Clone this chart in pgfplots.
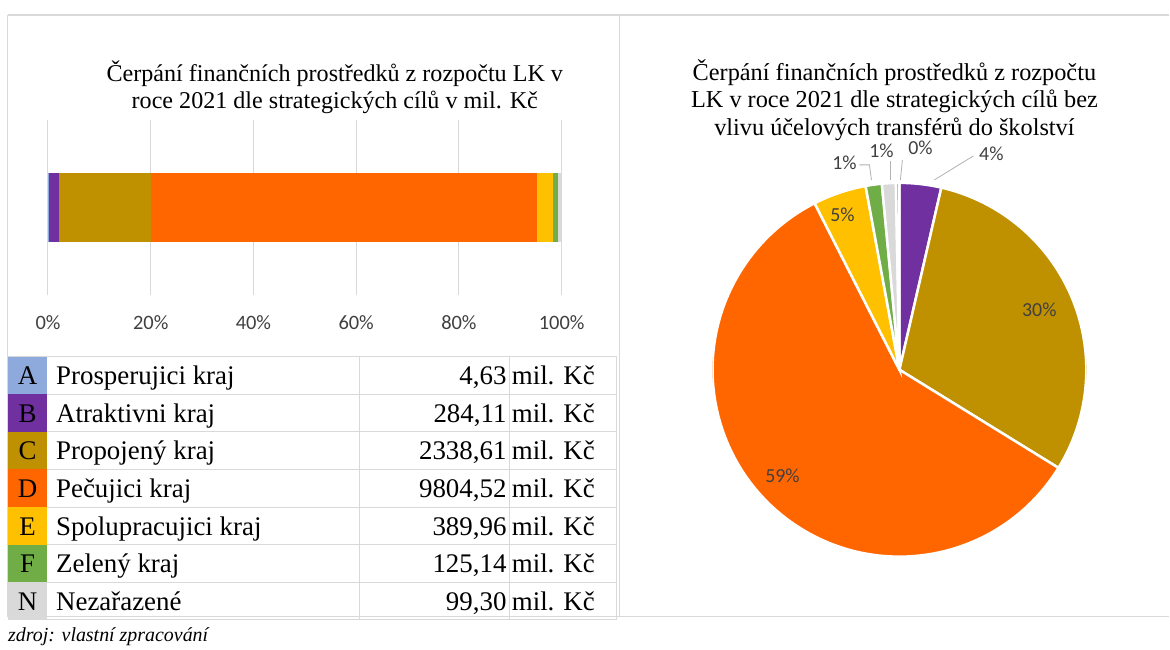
\documentclass[border=0pt]{standalone}
\usepackage{fontspec}
\setmainfont{Liberation Serif}
\newfontfamily\calib{Carlito}
\usepackage{pgfplots}
\pgfplotsset{compat=1.18}

\definecolor{cA}{HTML}{8EA9DB}
\definecolor{cB}{HTML}{7030A0}
\definecolor{cC}{HTML}{BF9000}
\definecolor{cD}{HTML}{FF6600}
\definecolor{cE}{HTML}{FFC000}
\definecolor{cF}{HTML}{70AD47}
\definecolor{cN}{HTML}{D9D9D9}
\definecolor{gridc}{HTML}{D9D9D9}
\definecolor{lbl}{HTML}{404040}

\begin{document}
\begin{tikzpicture}[x=1bp,y=1bp]
\path[fill=white] (0,0) rectangle (1170,650);
% panel frames
\draw[gridc, line width=1.5bp] (8,635) -- (1170,635);
\draw[gridc, line width=1.5bp] (8,33) -- (1170,33);
\draw[gridc, line width=1bp] (8,635) -- (8,33);
\draw[gridc, line width=1bp] (620,635) -- (620,33);

% left title
\node[align=center, font=\fontsize{24.2}{27}\selectfont] at (335,563)
  {Čerpání finančních prostředků z rozpočtu LK v\\roce 2021 dle strategických cílů v mil. Kč};

% stacked bar
\begin{axis}[at={(48bp,355bp)}, anchor=south west, scale only axis,
  width=514bp, height=175bp,
  xbar stacked, bar width=69bp,
  xmin=0, xmax=13046.27, ymin=-1, ymax=1, ytick=\empty,
  scaled x ticks=false,
  xtick={0,2609.254,5218.508,7827.762,10437.016,13046.27},
  xticklabels={0\%,20\%,40\%,60\%,80\%,100\%},
  xmajorgrids, grid style={gridc, line width=1bp},
  axis line style={draw=none}, major tick length=0pt,
  xticklabel style={font=\calib\fontsize{20.5}{23}\selectfont, text=lbl, anchor=center, yshift=-28bp},
]
\addplot[fill=cA, draw=none] coordinates {(4.63,0)};
\addplot[fill=cB, draw=none] coordinates {(284.11,0)};
\addplot[fill=cC, draw=none] coordinates {(2338.61,0)};
\addplot[fill=cD, draw=none] coordinates {(9804.52,0)};
\addplot[fill=cE, draw=none] coordinates {(389.96,0)};
\addplot[fill=cF, draw=none] coordinates {(125.14,0)};
\addplot[fill=cN, draw=none] coordinates {(99.30,0)};
\end{axis}

% table
\foreach \L/\n/\v/\c [count=\i from 0] in {
  A/Prosperujici kraj/4{,}63/cA,
  B/Atraktivni kraj/284{,}11/cB,
  C/Propojený kraj/2338{,}61/cC,
  D/Pečujici kraj/9804{,}52/cD,
  E/Spolupracujici kraj/389{,}96/cE,
  F/Zelený kraj/125{,}14/cF,
  N/Nezařazené/99{,}30/cN}{
  \pgfmathsetmacro\rtop{650-357-37.6*\i}
  \pgfmathsetmacro\rbot{\rtop-37.6}
  \pgfmathsetmacro\rbase{\rbot+9.5}
  \fill[\c] (8,\rtop) rectangle (47,\rbot);
  \draw[gridc, line width=1bp] (47,\rbot) -- (617,\rbot);
  \node[anchor=base, font=\fontsize{27}{30}\selectfont, inner sep=0pt] at (27.5,\rbase) {\L};
  \node[anchor=base west, font=\fontsize{27}{30}\selectfont, inner sep=0pt] at (56,\rbase) {\n};
  \node[anchor=base east, font=\fontsize{27}{30}\selectfont, inner sep=0pt] at (507,\rbase) {\v};
  \node[anchor=base west, font=\fontsize{27}{30}\selectfont, inner sep=0pt] at (512,\rbase) {mil. Kč};
}
\draw[gridc, line width=1bp] (8,293) -- (617,293);
\draw[gridc, line width=1bp] (360,293) -- (360,29.8);
\draw[gridc, line width=1bp] (509.5,293) -- (509.5,29.8);
\draw[gridc, line width=1bp] (617,293) -- (617,29.8);

\node[anchor=base west, font=\itshape\fontsize{20}{22}\selectfont, inner sep=0pt] at (8,8) {zdroj: vlastní zpracování};

% right title
\node[align=center, font=\fontsize{24.4}{27.5}\selectfont] at (895,550)
  {Čerpání finančních prostředků z rozpočtu\\LK v roce 2021 dle strategických cílů bez\\vlivu účelových transférů do školství};

% pie: shares in % clockwise from 12 o'clock (B, C, D, E, F, N, A)
\begin{axis}[at={(900bp,280bp)}, anchor=center, scale only axis,
  width=374bp, height=374bp, xmin=-1, xmax=1, ymin=-1, ymax=1, hide axis]
\addplot[draw=none] coordinates {(0,0)};
\pgfplotsinvokeforeach{{90/3.6/cB},{77.04/30.2/cC},{-31.68/58.7/cD},{-243.0/4.6/cE},{-259.56/1.4/cF},{-264.6/1.2/cN},{-268.92/0.3/cA}}{
  \pgfplotsextra{
    \foreach \s/\v/\c in {#1}{
      \pgfmathsetmacro\e{\s-3.6*\v}
      \filldraw[fill=\c, draw=white, line width=2.5bp] (axis cs:0,0) -- ++(\s:187bp)
        arc[start angle=\s, end angle=\e, radius=187bp] -- cycle;
    }
  }
}
\end{axis}
% pie labels
\begin{scope}[font=\calib\fontsize{20}{23}\selectfont, text=lbl]
\node at (992,496) {4\%};
\draw[gray!60, line width=0.8bp] (974,494) -- (935,470);
\node at (921,502) {0\%};
\draw[gray!60, line width=0.8bp] (903,490) -- (901,470);
\node at (882,499) {1\%};
\draw[gray!60, line width=0.8bp] (891,489) -- (891,470);
\node at (845,487) {1\%};
\draw[gray!60, line width=0.8bp] (860,485) -- (870,485) -- (872,470);
\node at (843,435) {5\%};
\node at (1040,340) {30\%};
\node at (783,174) {59\%};
\end{scope}
\end{tikzpicture}
\end{document}
